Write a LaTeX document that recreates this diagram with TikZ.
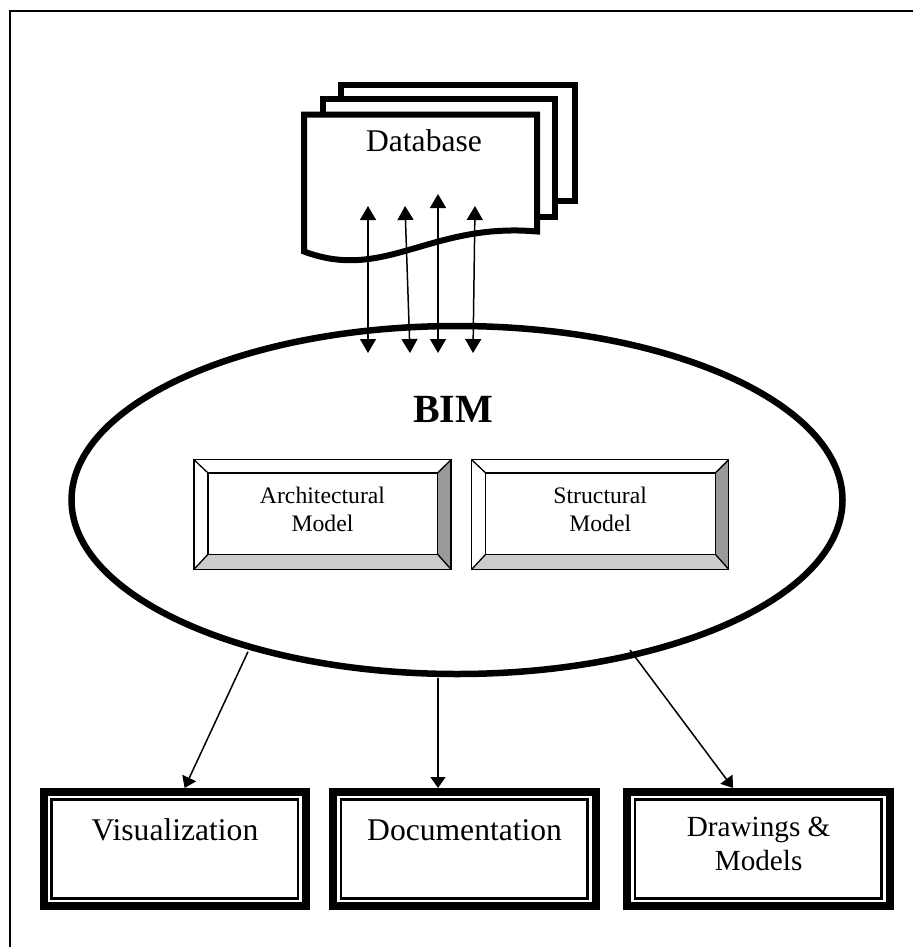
\documentclass[tikz,border=0pt]{standalone}
\usepackage{fontspec}
\setmainfont{Liberation Serif}
\usetikzlibrary{shapes.geometric,arrows.meta}
\definecolor{bevdark}{HTML}{999999}
\definecolor{bevlight}{HTML}{CCCCCC}
\begin{document}
\begin{tikzpicture}[x=0.5pt,y=-0.5pt,
  sheet/.style={draw,line width=3pt,fill=white,line join=miter},
  dbarrow/.style={line width=0.75pt,{Triangle[length=7pt,width=8pt]}-{Triangle[length=7pt,width=8pt]}},
  outarrow/.style={line width=0.75pt,-{Triangle[length=5.5pt,width=7.5pt]}},
  bevelbox/.style={rectangle,minimum width=128.2pt,minimum height=54.5pt,inner sep=0pt},
  outbox/.style={rectangle,minimum width=135pt,minimum height=61pt,inner sep=0pt},
  bevline/.style={line width=0.65pt},
  bigtxt/.style={font=\fontsize{15.8}{18}\selectfont,inner sep=0pt,anchor=base},
  midtxt/.style={font=\fontsize{14.6}{17}\selectfont,inner sep=0pt,anchor=base},
  smalltxt/.style={font=\fontsize{11.85}{14}\selectfont,inner sep=0pt,anchor=base}]
\useasboundingbox (0,0) rectangle (913,947);
% frame (cropped)
\coordinate (fbl) at (10.3,947);
\coordinate (ftl) at (10.3,10.8);
\coordinate (ftr) at (913,10.8);
\draw[line width=1pt] (fbl) -- (ftl) -- (ftr);

% database stack
\draw[sheet] (341,84.7) rectangle (574.7,201.3);
\draw[sheet] (323,98.7) rectangle (554.7,216.7);
\draw[sheet] (304,251.5) -- (304,114.7) -- (537,114.7) -- (537,231.5)
   .. controls (430,222) and (385,282) .. (304,251.5) -- cycle;
\node[bigtxt] (dbtxt) at (424,151.7) {Database};

% BIM ellipse
\node[ellipse,draw,line width=3.25pt,minimum width=385.5pt,minimum height=174pt,inner sep=0pt] (bim) at (457,500) {};
\node[font=\bfseries\fontsize{20}{24}\selectfont,inner sep=0pt,anchor=base] (bimtxt) at (453,422) {BIM};

% database arrows
\coordinate (d1t) at (368,206); \coordinate (d1b) at (368,353);
\coordinate (d2t) at (405,206); \coordinate (d2b) at (410,353);
\coordinate (d3t) at (438,194); \coordinate (d3b) at (438,353);
\coordinate (d4t) at (475,206); \coordinate (d4b) at (473,353);
\draw[dbarrow] (d1t) -- (d1b);
\draw[dbarrow] (d2t) -- (d2b);
\draw[dbarrow] (d3t) -- (d3b);
\draw[dbarrow] (d4t) -- (d4b);

% bevel boxes
\newcommand{\mybevel}[1]{%
  \coordinate (#1inw) at ([shift={(14,13.3)}]#1.north west);
  \coordinate (#1ine) at ([shift={(-13.4,13.3)}]#1.north east);
  \coordinate (#1ise) at ([shift={(-13.4,-15)}]#1.south east);
  \coordinate (#1isw) at ([shift={(14,-15)}]#1.south west);
  \fill[bevdark] (#1.north east) -- (#1.south east) -- (#1ise) -- (#1ine) -- cycle;
  \fill[bevlight] (#1.south west) -- (#1.south east) -- (#1ise) -- (#1isw) -- cycle;
  \draw[bevline] (#1.north west) rectangle (#1.south east);
  \draw[bevline] (#1inw) rectangle (#1ise);
  \draw[bevline] (#1.north west) -- (#1inw);
  \draw[bevline] (#1.north east) -- (#1ine);
  \draw[bevline] (#1.south east) -- (#1ise);
  \draw[bevline] (#1.south west) -- (#1isw);
}
\node[bevelbox] (arch) at (322.5,514.5) {};
\node[bevelbox] (struc) at (600.2,514.5) {};
\mybevel{arch}
\mybevel{struc}
\node[smalltxt] (arch1) at (322.5,503) {Architectural};
\node[smalltxt] (arch2) at (322.5,531.7) {Model};
\node[smalltxt] (struc1) at (600.2,503) {Structural};
\node[smalltxt] (struc2) at (600.2,531.7) {Model};

% output boxes
\newcommand{\myoutbox}[1]{%
  \draw[line width=4pt] ([shift={(4,4)}]#1.north west) rectangle ([shift={(-4,-4)}]#1.south east);
  \draw[line width=1.15pt] ([shift={(12,12)}]#1.north west) rectangle ([shift={(-12.5,-12)}]#1.south east);
}
\node[outbox] (vis) at (175,849) {};
\node[outbox] (doc) at (464.6,849) {};
\node[outbox] (drw) at (758.6,849) {};
\myoutbox{vis}
\myoutbox{doc}
\myoutbox{drw}
\node[bigtxt] (vistxt) at (175,840) {Visualization};
\node[bigtxt] (doctxt) at (464.6,840) {Documentation};
\node[midtxt] (drw1) at (758.6,836.7) {Drawings \&};
\node[midtxt] (drw2) at (758.6,870) {Models};

% output arrows
\coordinate (o1s) at (248,651.7); \coordinate (o1e) at (184.6,788);
\coordinate (o2s) at (438,678);   \coordinate (o2e) at (438,788);
\coordinate (o3s) at (630,650);   \coordinate (o3e) at (733,788);
\draw[outarrow] (o1s) -- (o1e);
\draw[outarrow] (o2s) -- (o2e);
\draw[outarrow] (o3s) -- (o3e);
\end{tikzpicture}
\end{document}
